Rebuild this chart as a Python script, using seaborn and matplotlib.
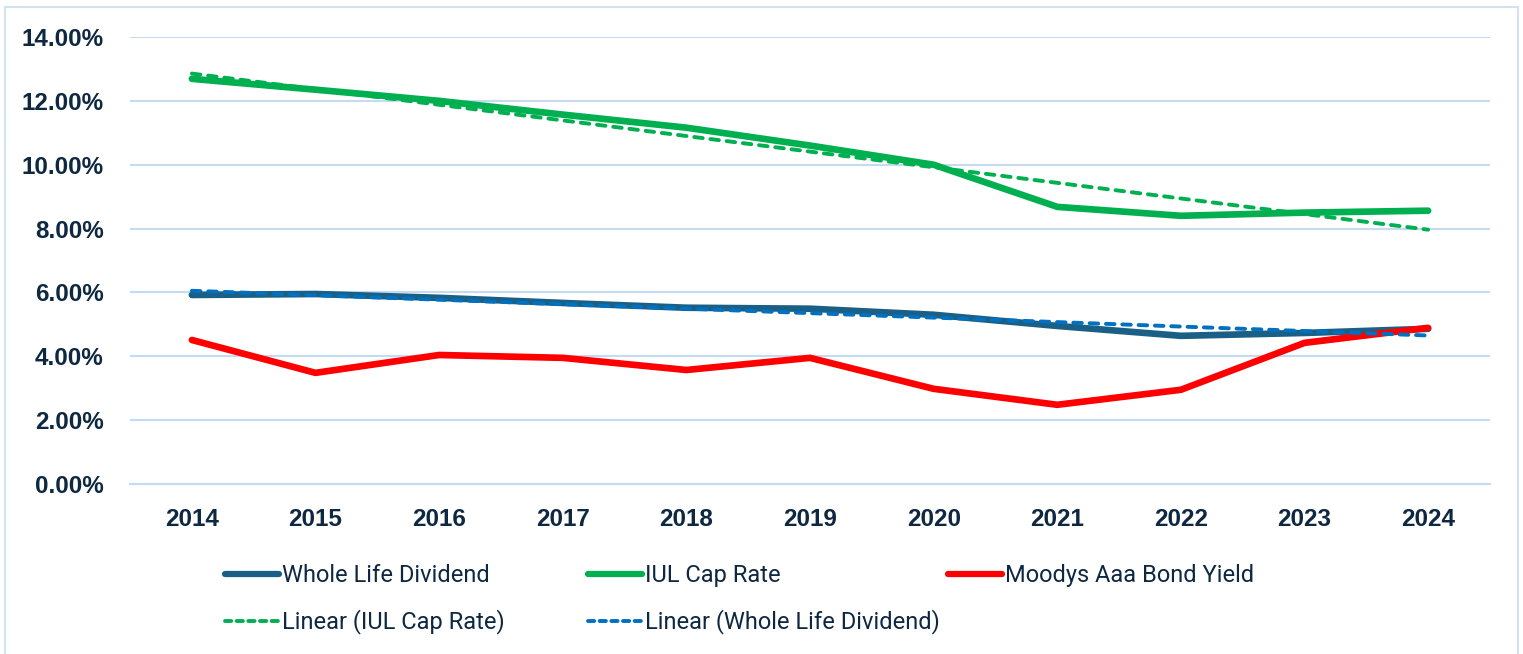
import numpy as np
import pandas as pd
import matplotlib
matplotlib.use('Agg')
import matplotlib.pyplot as plt
from matplotlib.lines import Line2D
from matplotlib.patches import Rectangle
from matplotlib.ticker import FuncFormatter, FixedLocator
import seaborn as sns

# 数据（单位：%）
years = [2014, 2015, 2016, 2017, 2018, 2019, 2020, 2021, 2022, 2023, 2024]
whole_life = [5.92, 5.95, 5.83, 5.67, 5.52, 5.49, 5.30, 4.95, 4.64, 4.73, 4.86]
iul_cap = [12.69, 12.35, 12.00, 11.57, 11.16, 10.60, 10.00, 8.68, 8.40, 8.50, 8.56]
moodys = [4.51, 3.48, 4.04, 3.95, 3.57, 3.95, 2.98, 2.48, 2.95, 4.42, 4.89]

df = pd.DataFrame({'year': years, 'Whole Life Dividend': whole_life,
                   'IUL Cap Rate': iul_cap, 'Moodys Aaa Bond Yield': moodys})

sns.set_style('white')
plt.rcParams['font.family'] = ['Liberation Sans', 'DejaVu Sans']

txt = '#0E2841'
grid_c = '#C6DBF2'
c_wl = '#1A6086'
c_iul = '#00B050'
c_red = '#FF0000'
c_blue = '#0070C0'

fig = plt.figure(figsize=(15.23, 6.54), dpi=100)
ax = fig.add_axes([0.0854, 0.26, 0.8929, 0.6834])

# 图表外框
fig.patches.append(Rectangle((5 / 1523, -0.05), 1513 / 1523, 1 - 7 / 654 + 0.05,
                             transform=fig.transFigure, fill=False,
                             edgecolor='#D3E2F3', lw=1.5))

solid = dict(lw=4.8, solid_capstyle='round', solid_joinstyle='round')
sns.lineplot(data=df, x='year', y='Whole Life Dividend', color=c_wl, ax=ax, **solid)
sns.lineplot(data=df, x='year', y='IUL Cap Rate', color=c_iul, ax=ax, **solid)
sns.lineplot(data=df, x='year', y='Moodys Aaa Bond Yield', color=c_red, ax=ax, **solid)

# 线性趋势线
dash = dict(lw=2.8, dashes=(2.2, 2.0), dash_capstyle='round')
sns.regplot(data=df, x='year', y='IUL Cap Rate', scatter=False, ci=None,
            truncate=True, color=c_iul, line_kws=dash, ax=ax)
sns.regplot(data=df, x='year', y='Whole Life Dividend', scatter=False, ci=None,
            truncate=True, color=c_blue, line_kws=dash, ax=ax)

ax.set_xlim(2013.5, 2024.5)
ax.set_ylim(0, 14)
ax.set_xlabel('')
ax.set_ylabel('')
ax.set_yticks(np.arange(0, 15, 2))
ax.yaxis.set_major_formatter(FuncFormatter(lambda v, p: '%.2f%%' % v))
ax.set_xticks(years)
ax.set_xticklabels([str(y) for y in years])
ax.xaxis.set_minor_locator(FixedLocator(np.arange(2013.5, 2025, 1)))

ax.grid(axis='y', color=grid_c, lw=1.5)
ax.set_axisbelow(True)
for s in ['top', 'right', 'left']:
    ax.spines[s].set_visible(False)
ax.spines['bottom'].set_color(grid_c)
ax.spines['bottom'].set_linewidth(1.5)

ax.tick_params(axis='y', length=0, pad=19, labelsize=17.5, labelcolor=txt)
ax.tick_params(axis='x', which='major', length=0, pad=17, labelsize=17.5, labelcolor=txt)
ax.tick_params(axis='x', which='minor', length=6, width=1.5, color=grid_c, direction='out')
for lab in ax.get_xticklabels() + ax.get_yticklabels():
    lab.set_fontweight('bold')

# 图例：三列，按行排列
h_wl = Line2D([], [], color=c_wl, lw=4.5, solid_capstyle='round')
h_iul = Line2D([], [], color=c_iul, lw=4.5, solid_capstyle='round')
h_red = Line2D([], [], color=c_red, lw=4.5, solid_capstyle='round')
h_liul = Line2D([], [], color=c_iul, lw=2.8, dashes=(1.6, 1.4), dash_capstyle='round')
h_lwl = Line2D([], [], color=c_blue, lw=2.8, dashes=(1.6, 1.4), dash_capstyle='round')

cols = [([h_wl, h_liul], ['Whole Life Dividend', 'Linear (IUL Cap Rate)'], 225),
        ([h_iul, h_lwl], ['IUL Cap Rate', 'Linear (Whole Life Dividend)'], 588),
        ([h_red], ['Moodys Aaa Bond Yield'], 948)]
for hs, ls, x0 in cols:
    leg = fig.legend(hs, ls, loc='upper left', bbox_to_anchor=(x0 / 1523, 1 - 564 / 654),
                     frameon=False, handlelength=2.3, handletextpad=0.12,
                     labelspacing=0.95, borderaxespad=0, borderpad=0,
                     prop={'family': ['Roboto', 'DejaVu Sans'], 'size': 17})
    for t in leg.get_texts():
        t.set_color(txt)

fig.savefig('out.png', dpi=100)
